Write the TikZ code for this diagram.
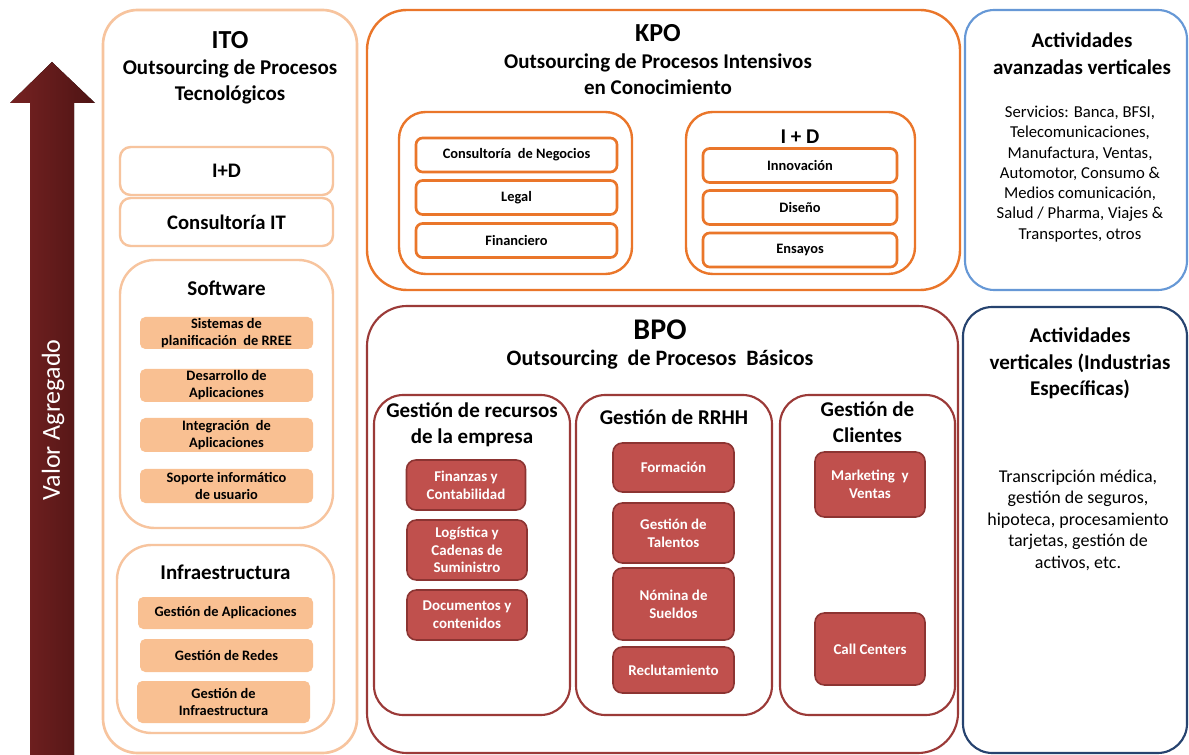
\documentclass[tikz,border=0pt]{standalone}
\usepackage{fontspec}
\setmainfont{Carlito}
\usetikzlibrary{positioning}

\definecolor{itoline}{RGB}{247,196,158}
\definecolor{itofill}{RGB}{249,192,146}
\definecolor{kpoline}{RGB}{234,118,42}
\definecolor{bpoline}{RGB}{155,58,56}
\definecolor{bpofill}{RGB}{192,80,77}
\definecolor{bpoedge}{RGB}{140,52,50}
\definecolor{avzline}{RGB}{102,152,214}
\definecolor{vrtline}{RGB}{38,67,111}
\definecolor{arrowdark}{RGB}{78,20,20}
\definecolor{arrowmid}{RGB}{118,34,34}

\begin{document}
\begin{tikzpicture}[
  x=0.75pt, y=-0.75pt,
  every node/.style={inner sep=0pt, align=center},
  sz/.style 2 args={minimum width=#1*0.75pt, minimum height=#2*0.75pt},
  bigttl/.style={font=\fontsize{19.5}{23}\selectfont\bfseries},
  subttl/.style={font=\fontsize{15.75}{19.5}\selectfont\bfseries},
  grpttl/.style={font=\fontsize{15.75}{19.5}\selectfont\bfseries},
  itoframe/.style={draw=itoline, line width=2pt, rounded corners=26pt},
  itotile/.style={draw=itoline, line width=1.8pt, rounded corners=8pt,
                  font=\fontsize{15.5}{18}\selectfont\bfseries},
  itogroup/.style={draw=itoline, line width=1.8pt, rounded corners=26pt},
  itoitem/.style={fill=itofill, rounded corners=4pt,
                  font=\fontsize{10.8}{12.75}\selectfont\bfseries},
  kpoframe/.style={draw=kpoline, line width=1.8pt, rounded corners=30pt},
  kpogroup/.style={draw=kpoline, line width=1.8pt, rounded corners=20pt},
  kpoitem/.style={draw=kpoline, line width=2pt, rounded corners=5pt,
                  font=\fontsize{10.8}{12}\selectfont\bfseries},
  bpoframe/.style={draw=bpoline, line width=1.6pt, rounded corners=30pt},
  bpogroup/.style={draw=bpoline, line width=1.6pt, rounded corners=22pt},
  bpoitem/.style={fill=bpofill, draw=bpoedge, line width=1.2pt,
                  rounded corners=7pt, text=white,
                  font=\fontsize{11.2}{13.3}\selectfont\bfseries},
  avzframe/.style={draw=avzline, line width=1.6pt, rounded corners=22pt},
  vrtframe/.style={draw=vrtline, line width=1.6pt, rounded corners=22pt},
]
  \useasboundingbox[fill=white] (0,0) rectangle (1189,755);

  % value arrow
  \fill[left color=arrowmid, right color=arrowdark]
    (30,755) -- (30,103) -- (10,103) -- (52,62) -- (95,103) -- (74,103) -- (74,755) -- cycle;
  \node[rotate=90, text=white, font=\fontsize{19.5}{22}\selectfont] (valor) at (53,420) {Valor Agregado};

  % ITO
  \node[itoframe, sz={254}{743}] (ito) at (230,381.5) {};
  \node[bigttl] (itoT) at (230,40) {ITO};
  \node[subttl] (itoS) at (230,81.5) {Outsourcing de Procesos\\Tecnológicos};
  \node[itotile, sz={213}{48}] (itoID) at (226.5,171) {I+D};
  \node[itotile, sz={213}{48}] (itoCons) at (226.5,222) {Consultoría IT};

  \node[itogroup, sz={213}{268}] (soft) at (226.5,394) {};
  \node[grpttl] (softT) at (226.5,288) {Software};
  \node[itoitem, sz={173}{32}] (sis) at (226.5,333) {Sistemas de\\planificación \ de RREE};
  \node[itoitem, sz={173}{33}] (desa) at (226.5,385.5) {Desarrollo de\\Aplicaciones};
  \node[itoitem, sz={173}{34}] (integ) at (226.5,435) {Integración \ de\\Aplicaciones};
  \node[itoitem, sz={173}{34}] (sop) at (226.5,486) {Soporte informático\\de usuario};

  \node[itogroup, sz={217}{188}] (infra) at (225.5,639) {};
  \node[grpttl] (infraT) at (225.5,572) {Infraestructura};
  \node[itoitem, sz={175}{32}] (gapl) at (225.5,613) {Gestión de Aplicaciones};
  \node[itoitem, sz={173}{33}] (gred) at (226.5,655.5) {Gestión de Redes};
  \node[itoitem, sz={173}{42}] (ginf) at (223.5,702) {Gestión de\\Infraestructura};

  % KPO
  \node[kpoframe, sz={593}{280}] (kpo) at (663.5,150) {};
  \node[bigttl] (kpoT) at (658,33) {KPO};
  \node[subttl] (kpoS) at (658,74.5) {Outsourcing de Procesos Intensivos\\en Conocimiento};

  \node[kpogroup, sz={233}{162}] (kpoL) at (515.5,193) {};
  \node[kpoitem, sz={201}{34}] (cneg) at (516.5,155) {Consultoría \ de Negocios};
  \node[kpoitem, sz={201}{34}] (legal) at (516.5,197.5) {Legal};
  \node[kpoitem, sz={201}{34}] (finan) at (516.5,240.5) {Financiero};

  \node[kpogroup, sz={229}{162}] (kpoR) at (800.5,193) {};
  \node[grpttl] (kpoID) at (800,137) {I + D};
  \node[kpoitem, sz={194}{34}] (innov) at (800,165.5) {Innovación};
  \node[kpoitem, sz={194}{34}] (dise) at (800,207.5) {Diseño};
  \node[kpoitem, sz={194}{34}] (ensa) at (800,250) {Ensayos};

  % BPO
  \node[bpoframe, sz={591}{447}] (bpo) at (662.5,529.5) {};
  \node[bigttl, font=\fontsize{22.5}{26}\selectfont\bfseries] (bpoT) at (660,330) {BPO};
  \node[subttl, font=\fontsize{16.5}{19.5}\selectfont\bfseries] (bpoS) at (660,360) {Outsourcing \ de Procesos \ Básicos};

  \node[bpogroup, sz={196}{320}] (emp) at (472,555) {};
  \node[grpttl] (empT) at (472,424.5) {Gestión de recursos\\de la empresa};
  \node[bpoitem, sz={119}{50}] (fin) at (466,485) {Finanzas y\\Contabilidad};
  \node[bpoitem, sz={120}{60}] (log) at (467,550) {Logística y\\Cadenas de\\Suministro};
  \node[bpoitem, sz={120}{50}] (doc) at (467,615) {Documentos y\\contenidos};

  \node[bpogroup, sz={196}{320}] (rrhh) at (674,555) {};
  \node[grpttl] (rrhhT) at (674,417) {Gestión de RRHH};
  \node[bpoitem, sz={121}{49}] (form) at (673.5,467.5) {Formación};
  \node[bpoitem, sz={121}{60}] (tal) at (673.5,533) {Gestión de\\Talentos};
  \node[bpoitem, sz={121}{72}] (nom) at (673.5,604) {Nómina de\\Sueldos};
  \node[bpoitem, sz={121}{46}] (recl) at (673.5,670) {Reclutamiento};

  \node[bpogroup, sz={175}{320}] (cli) at (867.5,555) {};
  \node[grpttl] (cliT) at (867.5,422.5) {Gestión de\\Clientes};
  \node[bpoitem, sz={110}{65}] (mkt) at (870,484.5) {Marketing \ y\\Ventas};
  \node[bpoitem, sz={110}{72}] (call) at (870,649) {Call Centers};

  % vertical activities
  \node[avzframe, sz={222}{280}] (avz) at (1076,150) {};
  \node[grpttl, font=\fontsize{15.75}{20}\selectfont\bfseries] (avzT) at (1082,53.5) {Actividades\\avanzadas verticales};
  \node[font=\fontsize{12.5}{15.2}\selectfont] (avzB) at (1080,174)
    {Servicios: Banca, BFSI,\\Telecomunicaciones,\\Manufactura, Ventas,\\Automotor, Consumo \&\\Medios comunicación,\\Salud / Pharma, Viajes \&\\Transportes, otros};

  \node[vrtframe, sz={224}{446}] (vrt) at (1075,530) {};
  \node[grpttl, font=\fontsize{15.75}{19.9}\selectfont\bfseries] (vrtT) at (1080,363.5) {Actividades\\verticales (Industrias\\Específicas)};
  \node[font=\fontsize{13.5}{16.1}\selectfont] (vrtB) at (1078,520)
    {Transcripción médica,\\gestión de seguros,\\hipoteca, procesamiento\\tarjetas, gestión de\\activos, etc.};
\end{tikzpicture}
\end{document}
